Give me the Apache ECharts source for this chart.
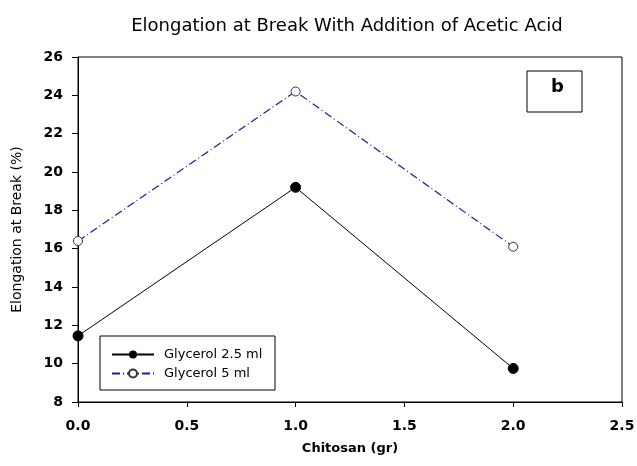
<!DOCTYPE html>
<html>
<head>
<meta charset="utf-8">
<script src="https://cdn.jsdelivr.net/npm/echarts@6/dist/echarts.min.js"></script>
<style>
  html, body { margin: 0; padding: 0; background: #fff; }
  #chart { width: 637px; height: 466px; }
</style>
</head>
<body>
<div id="chart"></div>
<script>
var chitosan = [0, 1, 2];
var glycerol25 = [11.45, 19.2, 9.75];
var glycerol5 = [16.4, 24.2, 16.1];
var seriesNames = ['Glycerol 2.5 ml', 'Glycerol 5 ml'];

function pairs(xs, ys) {
  return xs.map(function (x, i) { return [x, ys[i]]; });
}

var chart = echarts.init(document.getElementById('chart'));
var font = '"DejaVu Sans", Arial, sans-serif';

var option = {
  animation: false,
  title: {
    text: 'Elongation at Break With Addition of Acetic Acid',
    left: 342,
    top: 12,
    textAlign: 'center',
    textStyle: { fontFamily: font, fontSize: 18, fontWeight: 'normal', color: '#000' }
  },
  grid: {
    left: 78, right: 15, top: 57, bottom: 64,
    outerBoundsMode: 'none',
    show: true, borderColor: '#000', borderWidth: 1
  },
  legend: {
    orient: 'vertical',
    left: 106,
    top: 343,
    itemWidth: 42,
    itemHeight: 10,
    itemGap: 6,
    textStyle: { fontFamily: font, fontSize: 13, color: '#000', padding: [0, 0, 0, 5] },
    data: seriesNames
  },
  graphic: [
    {
      type: 'rect',
      shape: { x: 100, y: 336, width: 175, height: 54 },
      style: { fill: 'none', stroke: '#000', lineWidth: 1 },
      z: 10
    },
    {
      type: 'rect',
      shape: { x: 527, y: 71, width: 55, height: 41 },
      style: { fill: '#fff', stroke: '#000', lineWidth: 1 },
      z: 10
    },
    {
      type: 'text',
      left: 551, top: 78,
      style: { text: 'b', font: 'bold 18px ' + font, fill: '#000' },
      z: 11
    }
  ],
  xAxis: {
    type: 'value',
    min: 0, max: 2.5, interval: 0.5,
    name: 'Chitosan (gr)',
    nameLocation: 'middle',
    nameGap: 40,
    nameTextStyle: { fontFamily: font, fontSize: 13, fontWeight: 'bold', color: '#000' },
    axisLine: { lineStyle: { color: '#000' } },
    axisTick: { show: true, length: 5, lineStyle: { color: '#000' } },
    axisLabel: {
      margin: 17, fontFamily: font, fontSize: 14, fontWeight: 'bold', color: '#000',
      formatter: function (v) { return v.toFixed(1); }
    },
    splitLine: { show: false }
  },
  yAxis: {
    type: 'value',
    min: 8, max: 26, interval: 2,
    name: 'Elongation at Break (%)',
    nameLocation: 'middle',
    nameGap: 54,
    nameTextStyle: { fontFamily: font, fontSize: 14, color: '#000' },
    axisLine: { show: true, lineStyle: { color: '#000' } },
    axisTick: { show: true, length: 6, lineStyle: { color: '#000' } },
    axisLabel: { margin: 15, fontFamily: font, fontSize: 14, fontWeight: 'bold', color: '#000' },
    splitLine: { show: false }
  },
  series: [
    {
      name: seriesNames[0],
      type: 'line',
      data: pairs(chitosan, glycerol25),
      symbol: 'circle',
      symbolSize: 10,
      itemStyle: { color: '#000', borderColor: '#000' },
      lineStyle: { color: '#000', width: 1 }
    },
    {
      name: seriesNames[1],
      type: 'line',
      data: pairs(chitosan, glycerol5),
      symbol: 'circle',
      symbolSize: 9,
      itemStyle: { color: '#fff', borderColor: '#333', borderWidth: 1 },
      lineStyle: { color: '#1a1aa8', width: 1.2, type: [8, 3, 1, 3] }
    }
  ]
};

chart.setOption(option);
</script>
</body>
</html>
